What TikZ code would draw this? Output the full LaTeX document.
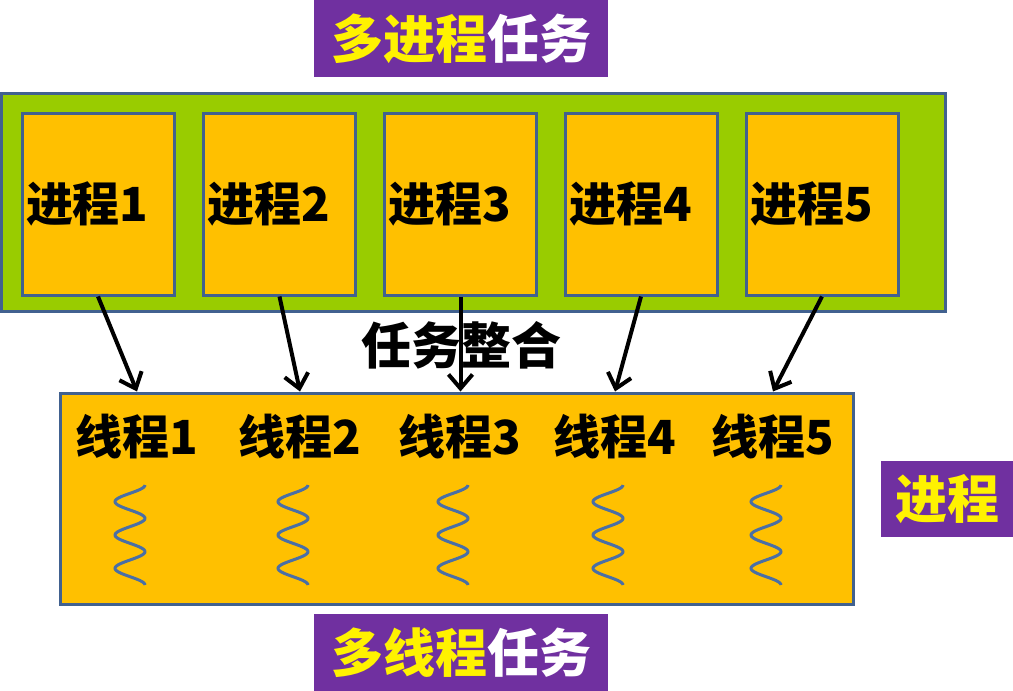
\documentclass[tikz,border=0pt]{standalone}
\usepackage{fontspec}
\newfontfamily\cjk{Noto Sans CJK SC}
\usetikzlibrary{positioning,arrows.meta}
\definecolor{edge}{HTML}{41618F}
\definecolor{leaf}{HTML}{99CC00}
\definecolor{gold}{HTML}{FFC000}
\definecolor{plum}{HTML}{7030A0}
\definecolor{wavy}{HTML}{4A6FA5}

\begin{document}
\begin{tikzpicture}[x=1pt, y=-1pt,
    box/.style = {draw=edge, line width=3pt, inner sep=0pt},
    proc/.style = {box, fill=gold, minimum width=152pt, minimum height=182pt,
        text width=144pt, align=left, font=\cjk\bfseries\fontsize{47}{47}\selectfont},
    tag/.style = {fill=plum, text=white, inner sep=0pt, font=\cjk\bfseries\fontsize{52}{52}\selectfont},
    thr/.style = {font=\cjk\bfseries\fontsize{47}{47}\selectfont},
    arr/.style = {-{Straight Barb[length=14pt,width=24pt,line width=4pt]}, line width=4pt},
    wave/.style = {draw=wavy, line width=3pt}]
    \useasboundingbox (0,0) rectangle (1013,691);
    % title above
    \node[tag, minimum width=294pt, minimum height=77pt] (top) at (461,38.5) {{\color{yellow}多进程}任务};
    % the five processes
    \node[box, fill=leaf, minimum width=944pt, minimum height=218pt] (grp) at (473.5,202) {};
    \node[proc] (p1) at (98,204) {进程1};
    \node[proc] (p2) at (279.5,204) {进程2};
    \node[proc] (p3) at (460.5,204) {进程3};
    \node[proc] (p4) at (641,204) {进程4};
    \node[proc] (p5) at (822,204) {进程5};
    \node[font=\cjk\bfseries\fontsize{50}{50}\selectfont] (mix) at (461,345) {任务整合};
    % one process, five threads
    \node[box, fill=gold, minimum width=793pt, minimum height=211pt] (th) at (456.5,498.5) {};
    \node[thr] (t1) at (137,437) {线程1};
    \node[thr] (t2) at (300,437) {线程2};
    \node[thr] (t3) at (460,437) {线程3};
    \node[thr] (t4) at (615,437) {线程4};
    \node[thr] (t5) at (773,437) {线程5};
    \foreach \cx in {130,293,453,608,766}
        \draw[wave] plot[domain=0:100, samples=90, smooth] ({\cx+15*cos(\x*10.8)}, {485+\x});
    \draw[arr] (p1.south) -- (t1 |- th.north);
    \draw[arr] (p2.south) -- (t2 |- th.north);
    \draw[arr] (p3.south) -- (p3 |- th.north);
    \draw[arr] (p4.south) -- (t4 |- th.north);
    \draw[arr] (p5.south) -- (t5 |- th.north);
    % side and bottom tags
    \node[tag, text=yellow, minimum width=132pt, minimum height=76pt] (side) at (947,499) {进程};
    \node[tag, minimum width=294pt, minimum height=77pt] (bot) at (461,652.5) {{\color{yellow}多线程}任务};
\end{tikzpicture}
\end{document}
